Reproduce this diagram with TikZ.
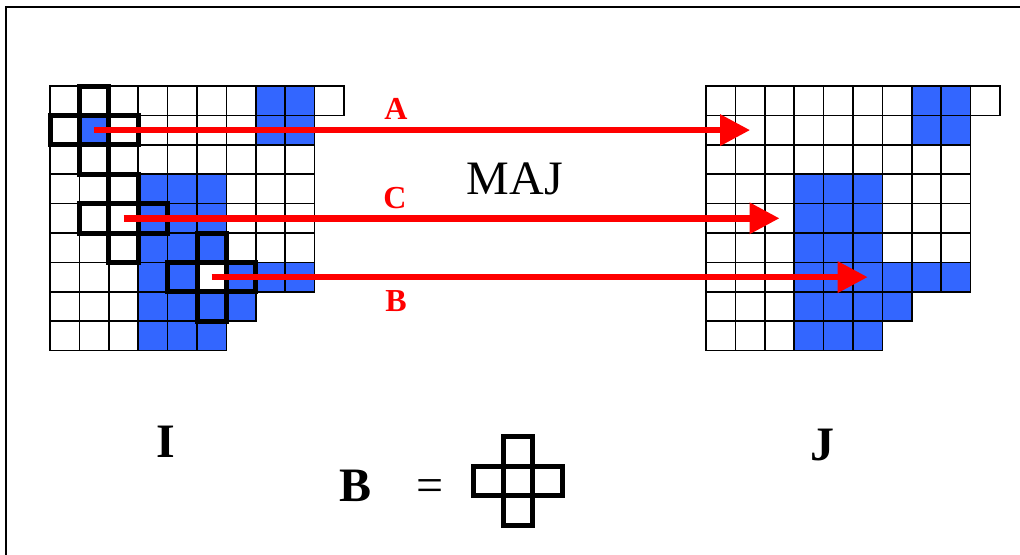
\documentclass[tikz,border=0pt]{standalone}
\usepackage{fontspec}
\setmainfont{Liberation Serif}
\usetikzlibrary{arrows.meta}
\definecolor{bleuI}{RGB}{51,102,255}
\tikzset{>=Stealth,cell/.style={draw=black,line width=1.1pt},croix/.style={draw=black,line width=3.75pt},
majflow/.style={red,line width=4.8pt,-{Triangle[length=22.5pt,width=22.5pt]}},
lab/.style={anchor=base,inner sep=0pt,text=red,font=\fontsize{24}{28}\selectfont\bfseries},
big/.style={anchor=base,inner sep=0pt,font=\fontsize{36}{40}\selectfont\bfseries}}
\newcommand{\cs}{29.4}
% grille : origine x, cases bleues col/ligne
\newcommand{\grille}[2]{%
\foreach \c/\r in {#2}{\fill[bleuI] ({#1+\c*\cs},{86+\r*\cs}) rectangle ++(\cs,\cs);}
\foreach \r/\n in {0/10,1/9,2/9,3/9,4/9,5/9,6/9,7/7,8/6}{\foreach \c in {1,...,\n}{\draw[cell] ({#1+(\c-1)*\cs},{86+\r*\cs}) rectangle ++(\cs,\cs);}}}
% element structurant en croix (coin haut gauche de la case centrale)
\newcommand{\croixB}[2]{\foreach \dx/\dy in {0/-1,-1/0,0/0,1/0,0/1}{\draw[croix] ({#1+\dx*\cs},{#2+\dy*\cs}) rectangle ++(\cs,\cs);}}
\begin{document}
\begin{tikzpicture}[x=.75pt,y=-.75pt]
\useasboundingbox (0,0) rectangle (1020,554);
\draw[line width=1.5pt] (6,570)--(6,7)--(1040,7);
\grille{50}{7/0,8/0,1/1,7/1,8/1,3/3,4/3,5/3,3/4,4/4,5/4,3/5,4/5,5/5,3/6,4/6,6/6,7/6,8/6,3/7,4/7,5/7,6/7,3/8,4/8,5/8}
\grille{706}{7/0,8/0,7/1,8/1,3/3,4/3,5/3,3/4,4/4,5/4,3/5,4/5,5/5,3/6,4/6,5/6,6/6,7/6,8/6,3/7,4/7,5/7,6/7,3/8,4/8,5/8}
\croixB{50+\cs}{86+\cs}\croixB{50+2*\cs}{86+4*\cs}\croixB{50+5*\cs}{86+6*\cs}
\croixB{503.3}{466.3}
% fleches de mise a jour
\coordinate (dA) at ({50+1.5*\cs},{86+1.5*\cs});\coordinate (fA) at ({706+1.5*\cs},{86+1.5*\cs});
\coordinate (dC) at ({50+2.5*\cs},{86+4.5*\cs});\coordinate (fC) at ({706+2.5*\cs},{86+4.5*\cs});
\coordinate (dB) at ({50+5.5*\cs},{86+6.5*\cs});\coordinate (fB) at ({706+5.5*\cs},{86+6.5*\cs});
\draw[majflow] (dA)--(fA);\draw[majflow] (dC)--(fC);\draw[majflow] (dB)--(fB);
\node[lab] (labA) at (396,119){A};\node[lab] (labC) at (395,208){C};\node[lab] (labB) at (396,311){B};
\node[anchor=base,inner sep=0pt,font=\fontsize{36}{40}\selectfont] (maj) at (515,194){MAJ};
\node[big] (imI) at (166,457){I};\node[big] (imJ) at (822,460){J};
\node[big] (elB) at (356,501){B};\node[big,font=\fontsize{36}{40}\selectfont] (egal) at (430,501){=};
\end{tikzpicture}
\end{document}
